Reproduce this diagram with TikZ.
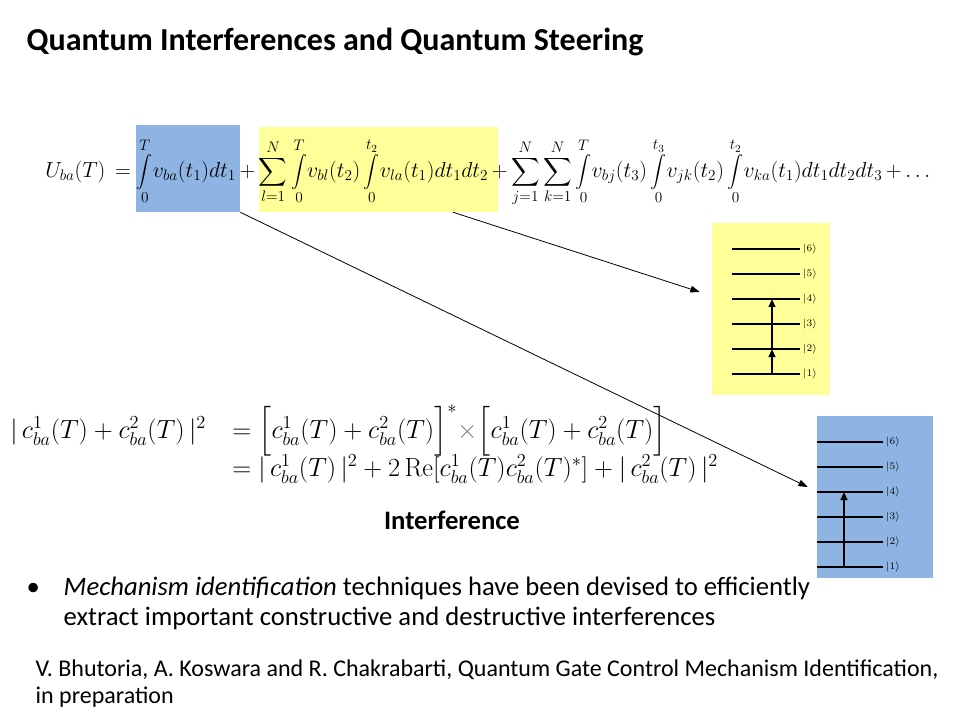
\RequirePackage{fix-cm}
\documentclass[tikz,border=0pt]{standalone}
\usepackage{amsmath}
\usepackage[no-math]{fontspec}
\setmainfont{Carlito}
\usetikzlibrary{arrows.meta}

\definecolor{boxblue}{RGB}{141,180,226}
\definecolor{boxyellow}{RGB}{255,255,153}

\newcommand{\sint}{\mathop{\vcenter{\hbox{\scalebox{0.8}{$\displaystyle\int$}}}}\limits}

\tikzset{
  level/.style={line width=0.8pt},
  mainlevel/.style={line width=2pt},
  pump/.style={line width=2pt,-{Triangle[length=6pt,width=5pt]}},
  link/.style={line width=0.6pt,-{Triangle[length=7pt,width=5pt]}},
  ket/.style={anchor=west,inner sep=2pt,font=\fontsize{7.5}{9}\selectfont},
  eqn/.style={inner sep=0pt,font=\fontsize{19.7}{23}\selectfont}
}

\begin{document}
\begin{tikzpicture}[x=0.75pt,y=-0.75pt]
	\useasboundingbox (0,0) rectangle (960,720);

	% title
	\node[anchor=west,font=\bfseries\fontsize{24}{28}\selectfont] (title) at (22,42) {Quantum Interferences and Quantum Steering};

	% highlighted terms
	\node[fill=boxblue,minimum width=78pt,minimum height=65.25pt,inner sep=0pt] (bterm) at (188,168.5) {};
	\node[fill=boxyellow,minimum width=179.25pt,minimum height=63.75pt,inner sep=0pt] (yterm) at (378.5,169.5) {};

	\node[inner sep=0pt,anchor=west,font=\fontsize{19}{22}\selectfont] (ueq) at (45,172) {\resizebox{663.75pt}{!}{\medmuskip=3mu$\displaystyle U_{ba}(T)\,=\sint_0^T\! v_{ba}(t_1)dt_1+\sum_{l=1}^N\sint_0^T\! v_{bl}(t_2)\sint_0^{t_2}\! v_{la}(t_1)dt_1dt_2+\sum_{j=1}^N\sum_{k=1}^N\sint_0^T\! v_{bj}(t_3)\sint_0^{t_3}\! v_{jk}(t_2)\sint_0^{t_2}\! v_{ka}(t_1)dt_1dt_2dt_3+\ldots$}};

	% level schemes
	\node[fill=boxyellow,minimum width=88.5pt,minimum height=129pt,inner sep=0pt] (ybox) at (771,309) {};
	\node[fill=boxblue,minimum width=87pt,minimum height=121.5pt,inner sep=0pt] (bbox) at (875,497) {};

	\foreach \n in {1,...,6}{
		\draw[level] (732,{374-25*(\n-1)}) -- (800,{374-25*(\n-1)}) node[ket] (yk\n) {$|\n\rangle$};
		\coordinate (yl\n) at (772,{374-25*(\n-1)});
		\draw[level] (817,{567-25*(\n-1)}) -- (883,{567-25*(\n-1)}) node[ket] (bk\n) {$|\n\rangle$};
		\coordinate (bl\n) at (844,{567-25*(\n-1)});
	}
	\draw[mainlevel] (732,299) -- (800,299);
	\draw[mainlevel] (817,492) -- (883,492);

	\draw[pump] (yl1) -- (yl2);
	\draw[pump] (yl2) -- (yl4);
	\draw[pump] (bl1) -- (bl4);

	% arrows from the terms
	\draw[link] ([xshift=55.9pt]yterm.south) -- ([xshift=-9pt,yshift=12.75pt]ybox.west);
	\draw[link] (bterm.south east) -- ([xshift=-6.75pt,yshift=7.5pt]bbox.west);

	% interference
	\node[eqn,anchor=base west] (lhs) at (10,438) {$|\,c^1_{ba}(T)+c^2_{ba}(T)\,|^2$};
	\node[eqn,anchor=base west] (row1) at (232,438) {$=\Big[c^1_{ba}(T)+c^2_{ba}(T)\Big]^*{\color{gray}\times}\Big[c^1_{ba}(T)+c^2_{ba}(T)\Big]$};
	\node[eqn,anchor=base west] (row2) at (232,476) {$=|\,c^1_{ba}(T)\,|^2+2\,\mathrm{Re}[c^1_{ba}(T)c^2_{ba}(T)^*]+|\,c^2_{ba}(T)\,|^2$};

	\node[font=\bfseries\fontsize{20}{24}\selectfont] (interf) at (452,520) {Interference};

	% bullet and reference
	\node[anchor=base west,font=\fontsize{20}{24}\selectfont] (dot) at (22,595) {\textbullet};
	\node[anchor=base west,font=\fontsize{20}{24}\selectfont] (line1) at (59,595) {\textit{Mechanism identification} techniques have been devised to efficiently};
	\node[anchor=base west,font=\fontsize{20}{24}\selectfont] (line2) at (59,625) {extract important constructive and destructive interferences};
	\node[anchor=base west,font=\fontsize{18}{22}\selectfont] (cite1) at (31,676) {V. Bhutoria, A. Koswara and R. Chakrabarti, Quantum Gate Control Mechanism Identification,};
	\node[anchor=base west,font=\fontsize{18}{22}\selectfont] (cite2) at (31,703) {in preparation};
\end{tikzpicture}
\end{document}
